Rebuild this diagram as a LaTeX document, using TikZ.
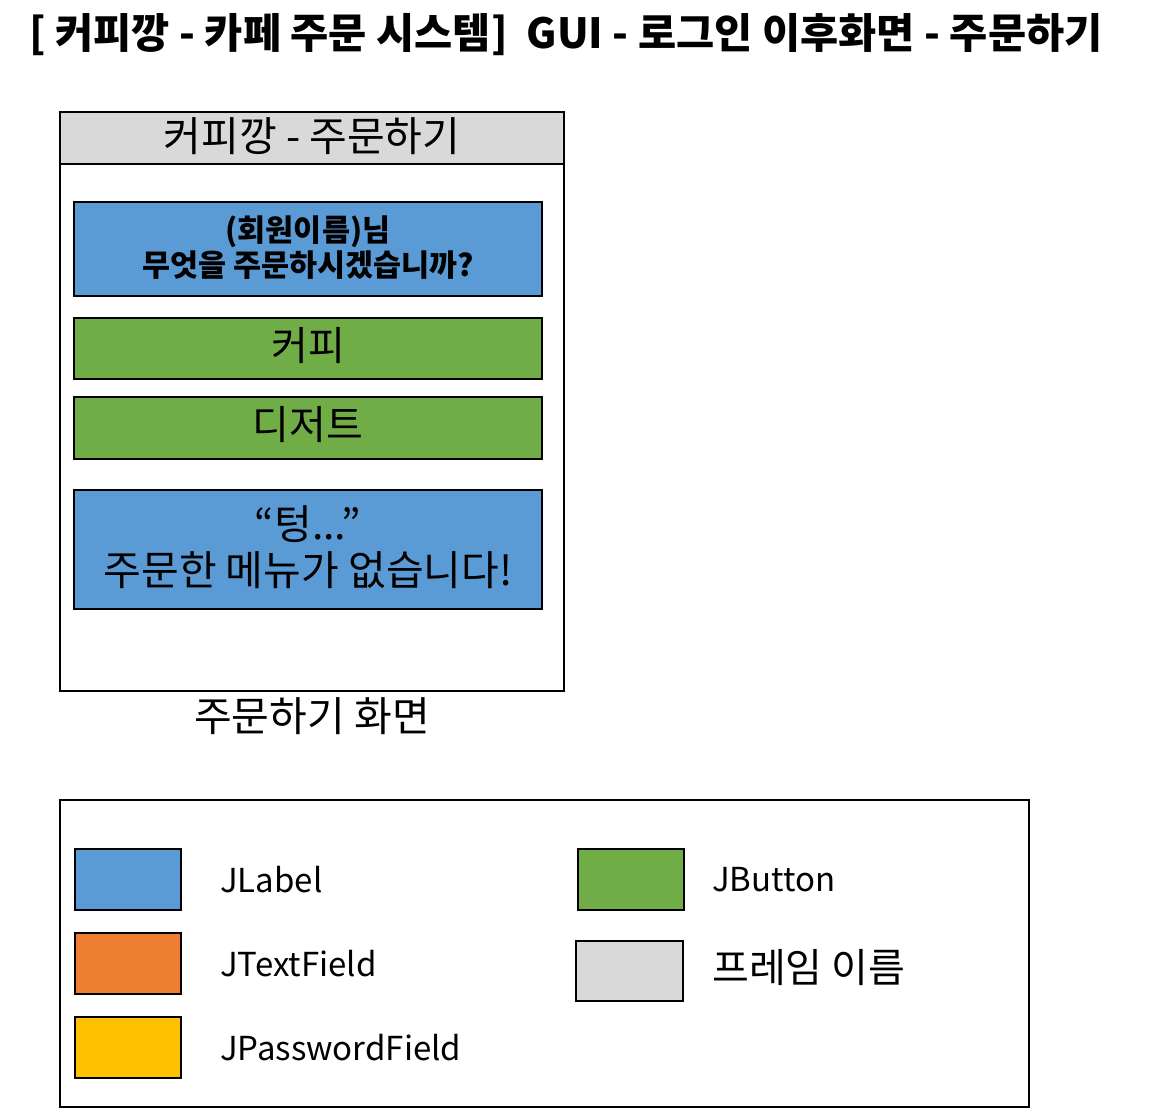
\documentclass[tikz,border=0pt]{standalone}
\usepackage{fontspec}
\setmainfont{Noto Sans CJK KR}
\definecolor{lblue}{HTML}{5B9BD5}
\definecolor{lorange}{HTML}{ED7D31}
\definecolor{lyellow}{HTML}{FFC000}
\definecolor{lgreen}{HTML}{70AD47}
\definecolor{lgray}{HTML}{D9D9D9}
\begin{document}
\begin{tikzpicture}[x=1pt,y=-1pt,
  box/.style={draw=black,line width=2pt},
  swatch/.style={draw=black,line width=2pt},
  txt/.style={inner sep=0pt,align=center,font=\fontsize{40}{46}\selectfont},
  legtxt/.style={inner sep=0pt,anchor=west,font=\fontsize{33}{40}\selectfont}]
\useasboundingbox (0,0) rectangle (1149,1109);
% title
\node[inner sep=0pt,font=\fontsize{41.5}{48}\selectfont\bfseries] (title) at (566,35) {[ 커피깡 - 카페 주문 시스템]\ \ GUI - 로그인 이후화면 - 주문하기};
% frame
\draw[box,fill=white] (60,112) rectangle (564,691);
\node[box,fill=lgray,minimum width=504pt,minimum height=52pt,inner sep=0pt] (bar) at (312,138) {};
\node[txt,font=\fontsize{41}{46}\selectfont] (bartxt) at (312,136) {커피깡 - 주문하기};
\node[box,fill=lblue,minimum width=468pt,minimum height=94pt,inner sep=0pt] (lbl1) at (308,249) {};
\node[txt,font=\fontsize{30.5}{35}\selectfont\bfseries] (lbl1txt) at (308,248) {(회원이름)님\\무엇을 주문하시겠습니까?};
\node[box,fill=lgreen,minimum width=468pt,minimum height=61pt,inner sep=0pt] (btn1) at (308,348.5) {};
\node[txt] (btn1txt) at (308,346) {커피};
\node[box,fill=lgreen,minimum width=468pt,minimum height=62pt,inner sep=0pt] (btn2) at (308,428) {};
\node[txt] (btn2txt) at (308,425) {디저트};
\node[box,fill=lblue,minimum width=468pt,minimum height=119pt,inner sep=0pt] (lbl2) at (308,549.5) {};
\node[txt,font=\fontsize{41}{46}\selectfont] (lbl2txt) at (308,547) {“텅...”\\주문한 메뉴가 없습니다!};
\node[txt,font=\fontsize{41}{46}\selectfont] (cap) at (312,716) {주문하기 화면};
% legend
\draw[box] (60,800) rectangle (1029,1107);
\node[swatch,fill=lblue,minimum width=106pt,minimum height=61pt,inner sep=0pt] (s1) at (128,879.5) {};
\node[swatch,fill=lorange,minimum width=106pt,minimum height=61pt,inner sep=0pt] (s2) at (128,963.5) {};
\node[swatch,fill=lyellow,minimum width=106pt,minimum height=61pt,inner sep=0pt] (s3) at (128,1047.5) {};
\node[swatch,fill=lgreen,minimum width=106pt,minimum height=61pt,inner sep=0pt] (s4) at (631,879.5) {};
\node[swatch,fill=lgray,minimum width=107pt,minimum height=60pt,inner sep=0pt] (s5) at (629.5,971) {};
\node[legtxt] (t1) at (220,880) {JLabel};
\node[legtxt] (t2) at (220,964) {JTextField};
\node[legtxt] (t3) at (220,1048) {JPasswordField};
\node[legtxt] (t4) at (712,880) {JButton};
\node[legtxt,font=\fontsize{40}{46}\selectfont] (t5) at (712,968) {프레임 이름};
\end{tikzpicture}
\end{document}
